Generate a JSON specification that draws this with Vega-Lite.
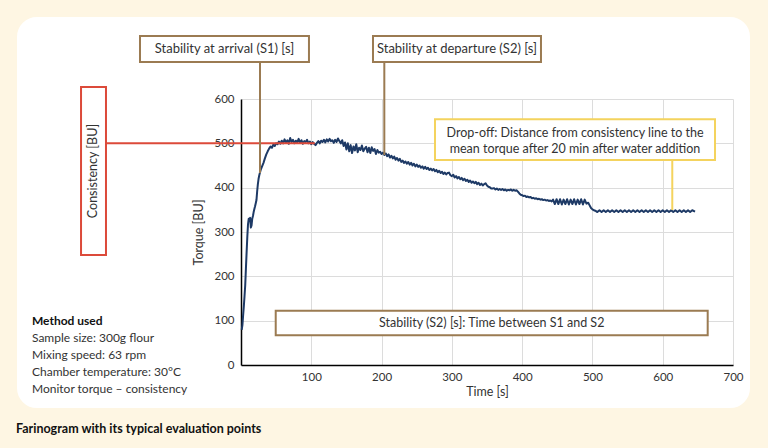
{
  "$schema": "https://vega.github.io/schema/vega-lite/v6.json",
  "width": 492,
  "height": 266,
  "autosize": {"type": "none"},
  "padding": {"left": 241, "top": 99, "right": 35, "bottom": 83},
  "background": "#ffffff",
  "data": {"values": [{}]},
  "config": {
    "font": "Lato",
    "view": {"stroke": null},
    "axis": {
      "labelFontSize": 11.5,
      "labelColor": "#333333",
      "titleColor": "#333333",
      "titleFontSize": 12.5,
      "titleFontWeight": "normal",
      "ticks": false,
      "gridColor": "#dcdcdc",
      "gridWidth": 1,
      "domainColor": "#000000",
      "domainWidth": 1.5,
      "labelFlush": false,
      "labelOverlap": false
    }
  },
  "datasets": {
    "curve": [
      {"t":1,"v":79},{"t":2,"v":90},{"t":3,"v":112},{"t":4,"v":132},{"t":5,"v":155},{"t":6,"v":180},{"t":7,"v":218},{"t":8,"v":255},{"t":9,"v":290},{"t":10,"v":318},
      {"t":11,"v":330},{"t":12,"v":328},{"t":13,"v":332},{"t":14,"v":310},{"t":15,"v":315},{"t":16,"v":330},{"t":17,"v":336},{"t":18,"v":345},{"t":19,"v":352},{"t":20,"v":358},
      {"t":21,"v":365},{"t":22,"v":372},{"t":23,"v":392},{"t":24,"v":408},{"t":25,"v":420},{"t":26,"v":428},{"t":27,"v":434},{"t":28,"v":440},{"t":30,"v":448},{"t":32,"v":456},
      {"t":34,"v":466},{"t":36,"v":475},{"t":38,"v":482},{"t":40,"v":488},{"t":42,"v":493},{"t":44,"v":490},{"t":46,"v":497},{"t":48,"v":494},{"t":50,"v":500},{"t":52,"v":498},
      {"t":54,"v":504},{"t":56,"v":499},{"t":58,"v":506},{"t":60,"v":500},{"t":62,"v":509},{"t":64,"v":502},{"t":66,"v":507},{"t":68,"v":499},{"t":70,"v":512},{"t":72,"v":503},
      {"t":74,"v":508},{"t":76,"v":500},{"t":78,"v":506},{"t":80,"v":502},{"t":82,"v":510},{"t":84,"v":501},{"t":86,"v":507},{"t":88,"v":499},{"t":90,"v":505},{"t":92,"v":503},
      {"t":94,"v":508},{"t":96,"v":500},{"t":98,"v":504},{"t":100,"v":498},{"t":102,"v":503},{"t":104,"v":499},{"t":106,"v":496},{"t":108,"v":501},{"t":110,"v":505},{"t":112,"v":500},
      {"t":114,"v":506},{"t":116,"v":503},{"t":118,"v":508},{"t":120,"v":502},{"t":122,"v":509},{"t":124,"v":504},{"t":126,"v":510},{"t":128,"v":505},{"t":130,"v":507},{"t":132,"v":501},
      {"t":134,"v":508},{"t":136,"v":503},{"t":138,"v":511},{"t":140,"v":505},{"t":142,"v":500},{"t":144,"v":507},{"t":146,"v":494},{"t":148,"v":502},{"t":150,"v":486},{"t":152,"v":500},
      {"t":154,"v":482},{"t":156,"v":496},{"t":158,"v":478},{"t":160,"v":493},{"t":162,"v":484},{"t":164,"v":498},{"t":166,"v":480},{"t":168,"v":490},{"t":170,"v":485},{"t":172,"v":495},
      {"t":174,"v":482},{"t":176,"v":488},{"t":178,"v":492},{"t":180,"v":480},{"t":182,"v":490},{"t":184,"v":478},{"t":186,"v":491},{"t":188,"v":483},{"t":190,"v":487},{"t":192,"v":476},
      {"t":194,"v":485},{"t":196,"v":479},{"t":198,"v":481},{"t":200,"v":476},{"t":202,"v":479},{"t":204,"v":474},{"t":206,"v":477},{"t":208,"v":471},{"t":210,"v":475},{"t":212,"v":468},
      {"t":214,"v":472},{"t":216,"v":466},{"t":218,"v":470},{"t":220,"v":463},{"t":222,"v":467},{"t":224,"v":461},{"t":226,"v":465},{"t":228,"v":458},{"t":230,"v":461},{"t":232,"v":456},
      {"t":234,"v":459},{"t":236,"v":454},{"t":238,"v":458},{"t":240,"v":452},{"t":242,"v":456},{"t":244,"v":450},{"t":246,"v":454},{"t":248,"v":448},{"t":250,"v":452},{"t":252,"v":447},
      {"t":254,"v":450},{"t":256,"v":445},{"t":258,"v":448},{"t":260,"v":443},{"t":262,"v":447},{"t":264,"v":442},{"t":266,"v":445},{"t":268,"v":440},{"t":270,"v":443},{"t":272,"v":439},
      {"t":274,"v":442},{"t":276,"v":437},{"t":278,"v":440},{"t":280,"v":435},{"t":282,"v":438},{"t":284,"v":433},{"t":286,"v":436},{"t":288,"v":431},{"t":290,"v":434},{"t":292,"v":430},
      {"t":294,"v":433},{"t":296,"v":434},{"t":298,"v":428},{"t":300,"v":426},{"t":302,"v":429},{"t":304,"v":423},{"t":306,"v":426},{"t":308,"v":421},{"t":310,"v":424},{"t":312,"v":419},
      {"t":314,"v":422},{"t":316,"v":417},{"t":318,"v":420},{"t":320,"v":415},{"t":322,"v":418},{"t":324,"v":413},{"t":326,"v":416},{"t":328,"v":411},{"t":330,"v":414},{"t":332,"v":410},
      {"t":334,"v":413},{"t":336,"v":408},{"t":338,"v":411},{"t":340,"v":406},{"t":342,"v":409},{"t":344,"v":405},{"t":346,"v":408},{"t":348,"v":410},{"t":350,"v":405},{"t":352,"v":402},
      {"t":354,"v":401},{"t":356,"v":398},{"t":358,"v":398},{"t":360,"v":399},{"t":362,"v":396},{"t":364,"v":398},{"t":366,"v":395},{"t":368,"v":397},{"t":370,"v":395},{"t":372,"v":397},
      {"t":374,"v":394},{"t":376,"v":396},{"t":378,"v":393},{"t":380,"v":395},{"t":382,"v":394},{"t":384,"v":396},{"t":386,"v":393},{"t":388,"v":395},{"t":390,"v":393},{"t":392,"v":394},
      {"t":394,"v":391},{"t":396,"v":387},{"t":398,"v":384},{"t":400,"v":383},{"t":402,"v":381},{"t":404,"v":382},{"t":406,"v":379},{"t":408,"v":380},{"t":410,"v":378},{"t":412,"v":379},
      {"t":414,"v":376},{"t":416,"v":377},{"t":418,"v":375},{"t":420,"v":376},{"t":422,"v":374},{"t":424,"v":375},{"t":426,"v":373},{"t":428,"v":374},{"t":430,"v":372},{"t":432,"v":373},
      {"t":434,"v":371},{"t":436,"v":372},{"t":438,"v":370},{"t":440,"v":371},{"t":442,"v":369},{"t":444,"v":373},{"t":446.5,"v":363},{"t":449,"v":374},{"t":451.5,"v":363},{"t":454,"v":374},
      {"t":456.5,"v":362},{"t":459,"v":373},{"t":461.5,"v":363},{"t":464,"v":374},{"t":466.5,"v":362},{"t":469,"v":373},{"t":471.5,"v":363},{"t":474,"v":374},{"t":476.5,"v":362},{"t":479,"v":373},
      {"t":481.5,"v":363},{"t":484,"v":374},{"t":486.5,"v":362},{"t":489,"v":373},{"t":491.5,"v":364},{"t":494,"v":366},{"t":496,"v":360},{"t":498,"v":354},{"t":500,"v":351},{"t":502,"v":349},
      {"t":504,"v":348},{"t":507,"v":345},{"t":510,"v":349},{"t":513,"v":345},{"t":516,"v":349},{"t":519,"v":345},{"t":522,"v":349},{"t":525,"v":345},{"t":528,"v":349},{"t":531,"v":345},
      {"t":534,"v":349},{"t":537,"v":345},{"t":540,"v":349},{"t":543,"v":345},{"t":546,"v":349},{"t":549,"v":345},{"t":552,"v":349},{"t":555,"v":345},{"t":558,"v":349},{"t":561,"v":345},
      {"t":564,"v":349},{"t":567,"v":345},{"t":570,"v":349},{"t":573,"v":345},{"t":576,"v":349},{"t":579,"v":345},{"t":582,"v":349},{"t":585,"v":345},{"t":588,"v":349},{"t":591,"v":345},
      {"t":594,"v":349},{"t":597,"v":345},{"t":600,"v":349},{"t":603,"v":345},{"t":606,"v":349},{"t":609,"v":345},{"t":612,"v":349},{"t":615,"v":345},{"t":618,"v":349},{"t":621,"v":345},
      {"t":624,"v":349},{"t":627,"v":345},{"t":630,"v":349},{"t":633,"v":345},{"t":636,"v":349},{"t":639,"v":345},{"t":642,"v":349},{"t":646,"v":346}
    ]
  },
  "layer": [
    {
      "data": {"name": "curve"},
      "mark": {"type": "line", "color": "#1e3a66", "strokeWidth": 2, "strokeJoin": "round"},
      "encoding": {
        "x": {"field": "t", "type": "quantitative", "scale": {"domain": [0, 700], "nice": false, "zero": false},
              "axis": {"values": [100, 200, 300, 400, 500, 600, 700], "title": "Time [s]", "labelPadding": 6, "titlePadding": 3}},
        "y": {"field": "v", "type": "quantitative", "scale": {"domain": [0, 600], "nice": false},
              "axis": {"values": [0, 100, 200, 300, 400, 500, 600], "title": "Torque [BU]", "labelPadding": 7, "titlePadding": 8}}
      }
    },
    {
      "mark": {"type": "rule", "color": "#dc4a3a", "strokeWidth": 2},
      "encoding": {"x": {"datum": -192.1, "type": "quantitative"}, "x2": {"datum": 105}, "y": {"datum": 500, "type": "quantitative"}}
    },
    {
      "mark": {"type": "rect", "fill": "#ffffff", "stroke": "#dc4a3a", "strokeWidth": 2},
      "encoding": {"x": {"datum": -227.6, "type": "quantitative"}, "x2": {"datum": -192.1}, "y": {"datum": 627.1, "type": "quantitative"}, "y2": {"datum": 248.1}}
    },
    {
      "mark": {"type": "text", "text": "Consistency [BU]", "angle": 270, "fontSize": 12.5, "color": "#333333", "align": "center", "baseline": "middle"},
      "encoding": {"x": {"datum": -209.9, "type": "quantitative"}, "y": {"datum": 437.6, "type": "quantitative"}}
    },
    {
      "mark": {"type": "rule", "color": "#9b7b52", "strokeWidth": 2},
      "encoding": {"x": {"datum": 27.0, "type": "quantitative"}, "y": {"datum": 683.5, "type": "quantitative"}, "y2": {"datum": 433.1}}
    },
    {
      "mark": {"type": "rule", "color": "#9b7b52", "strokeWidth": 2},
      "encoding": {"x": {"datum": 203.9, "type": "quantitative"}, "y": {"datum": 683.5, "type": "quantitative"}, "y2": {"datum": 473.7}}
    },
    {
      "mark": {"type": "rect", "fill": "#ffffff", "stroke": "#9b7b52", "strokeWidth": 2},
      "encoding": {"x": {"datum": -143.7, "type": "quantitative"}, "x2": {"datum": 96.7}, "y": {"datum": 742.1, "type": "quantitative"}, "y2": {"datum": 683.5}}
    },
    {
      "mark": {"type": "text", "text": "Stability at arrival (S1) [s]", "fontSize": 13, "color": "#333333", "align": "center", "baseline": "middle"},
      "encoding": {"x": {"datum": -23.5, "type": "quantitative"}, "y": {"datum": 712.8, "type": "quantitative"}}
    },
    {
      "mark": {"type": "rect", "fill": "#ffffff", "stroke": "#9b7b52", "strokeWidth": 2},
      "encoding": {"x": {"datum": 187.8, "type": "quantitative"}, "x2": {"datum": 426.8}, "y": {"datum": 742.1, "type": "quantitative"}, "y2": {"datum": 683.5}}
    },
    {
      "mark": {"type": "text", "text": "Stability at departure (S2) [s]", "fontSize": 13, "color": "#333333", "align": "center", "baseline": "middle"},
      "encoding": {"x": {"datum": 307.3, "type": "quantitative"}, "y": {"datum": 712.8, "type": "quantitative"}}
    },
    {
      "mark": {"type": "rule", "color": "#f4d35e", "strokeWidth": 2},
      "encoding": {"x": {"datum": 613.6, "type": "quantitative"}, "y": {"datum": 462.2, "type": "quantitative"}, "y2": {"datum": 349.6}}
    },
    {
      "mark": {"type": "rect", "fill": "#ffffff", "stroke": "#f4d35e", "strokeWidth": 2},
      "encoding": {"x": {"datum": 276.0, "type": "quantitative"}, "x2": {"datum": 674.4}, "y": {"datum": 554.2, "type": "quantitative"}, "y2": {"datum": 462.2}}
    },
    {
      "mark": {"type": "text", "text": ["Drop-off: Distance from consistency line to the", "mean torque after 20 min after water addition"], "lineHeight": 16.5, "fontSize": 12.5, "color": "#333333", "align": "center", "baseline": "middle"},
      "encoding": {"x": {"datum": 475.2, "type": "quantitative"}, "y": {"datum": 524.0, "type": "quantitative"}}
    },
    {
      "mark": {"type": "rect", "fill": "#ffffff", "stroke": "#9b7b52", "strokeWidth": 2},
      "encoding": {"x": {"datum": 49.4, "type": "quantitative"}, "x2": {"datum": 664.0}, "y": {"datum": 122.5, "type": "quantitative"}, "y2": {"datum": 67.0}}
    },
    {
      "mark": {"type": "text", "text": "Stability (S2) [s]: Time between S1 and S2", "fontSize": 12.5, "color": "#333333", "align": "center", "baseline": "middle"},
      "encoding": {"x": {"datum": 356.7, "type": "quantitative"}, "y": {"datum": 94.7, "type": "quantitative"}}
    },
    {
      "mark": {"type": "text", "text": "Method used", "fontSize": 12, "fontWeight": "bold", "color": "#111111", "align": "left", "baseline": "middle"},
      "encoding": {"x": {"datum": -297.4, "type": "quantitative"}, "y": {"datum": 99.9, "type": "quantitative"}}
    },
    {
      "mark": {"type": "text", "text": ["Sample size: 300g flour", "Mixing speed: 63 rpm", "Chamber temperature: 30°C", "Monitor torque – consistency"], "lineHeight": 17, "fontSize": 12, "color": "#333333", "align": "left", "baseline": "middle"},
      "encoding": {"x": {"datum": -297.4, "type": "quantitative"}, "y": {"datum": 61.6, "type": "quantitative"}}
    },
    {
      "mark": {"type": "rect", "fill": null, "fillOpacity": 0, "stroke": "#fef6e3", "strokeWidth": 80, "cornerRadius": 60},
      "encoding": {"x": {"datum": -375.6, "type": "quantitative"}, "x2": {"datum": 781.1}, "y": {"datum": 875.2, "type": "quantitative"}, "y2": {"datum": -187.2}}
    },
    {
      "mark": {"type": "text", "text": "Farinogram with its typical evaluation points", "fontSize": 12.5, "fontWeight": "bold", "color": "#111111", "align": "left", "baseline": "middle"},
      "encoding": {"x": {"datum": -320.1, "type": "quantitative"}, "y": {"datum": -144.4, "type": "quantitative"}}
    }
  ]
}
